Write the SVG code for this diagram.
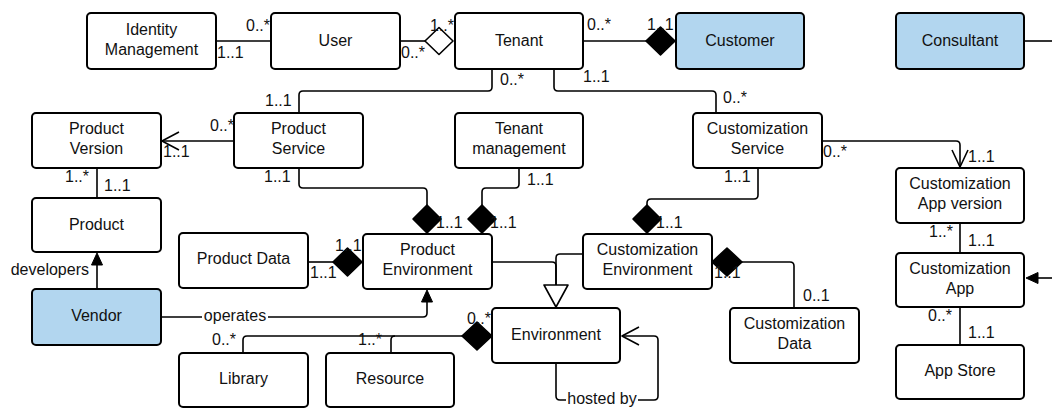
<svg xmlns="http://www.w3.org/2000/svg" width="1052" height="408" viewBox="0 0 1052 408">
<style>
.n rect{fill:#fff;stroke:#000;stroke-width:2}
.n.b rect{fill:#b2d6ef}
text{font-family:"Liberation Sans",Arial,sans-serif;font-size:16px;fill:#111}
.n text{text-anchor:middle}
.c path{fill:none;stroke:#000;stroke-width:1.6;stroke-linejoin:round}
.c path.fd{fill:#000;stroke:#000}
.c path.hd{fill:#fff;stroke:#000}
.c path.fa{fill:#000;stroke:#000;stroke-width:1}
.lbl rect{fill:#fff}
</style>
<rect width="1052" height="408" fill="#fff"/>
<g class="c" id="connectors">
<path d="M216,41 H271"/>
<path d="M400,41 H425"/>
<path class="hd" d="M425,41 L439,27.5 L453,41 L439,54.5 Z"/>
<path d="M583,41 H646"/>
<path class="fd" d="M646,41 L660.5,27 L675,41 L660.5,55 Z"/>
<path d="M1024,41 H1052"/>
<path d="M492,69 V87 Q492,91 488,91 H303 Q299,91 299,95 V113"/>
<path d="M554,69 V87 Q554,91 558,91 H712 Q716,91 716,95 V113"/>
<path d="M234,141 H162"/>
<path d="M179,132 L162,141 L179,150"/>
<path d="M97,168 V198"/>
<path d="M299,168 V184 Q299,188 303,188 H423 Q427,188 427,192 V205"/>
<path class="fd" d="M427,205 L441,219 L427,233 L413,219 Z"/>
<path d="M519,168 V184 Q519,188 515,188 H486 Q482,188 482,192 V205"/>
<path class="fd" d="M482,205 L496,219 L482,233 L468,219 Z"/>
<path d="M758,168 V195 Q758,199 754,199 H651 Q647,199 647,203 V205"/>
<path class="fd" d="M647,205 L661,219 L647,233 L633,219 Z"/>
<path d="M822,141 H956 Q960,141 960,145 V167"/>
<path d="M952,150 L960,167 L968,150"/>
<path d="M960,223 V253"/>
<path d="M960,307 V345"/>
<path d="M1052,278 H1036"/>
<path class="fa" d="M1026,278 L1038,272.5 L1038,283.5 Z"/>
<path d="M308,262 H333"/>
<path class="fd" d="M333,262 L347.5,248 L362,262 L347.5,276 Z"/>
<path d="M97,289 V262"/>
<path class="fa" d="M97,253 L102.5,265 L91.5,265 Z"/>
<path d="M161,317 H423 Q427,317 427,313 V300"/>
<path class="fa" d="M427,290 L432.5,302 L421.5,302 Z"/>
<path d="M492,262 H552 Q556,262 556,266 V285"/>
<path d="M583,254 H560 Q556,254 556,258 V285"/>
<path class="hd" d="M544,285 L568,285 L556,307 Z"/>
<path d="M243,353 V340 Q243,336 247,336 H462"/>
<path d="M391,353 V340 Q391,336 395,336"/>
<path class="fd" d="M462,336 L477,322 L492,336 L477,350 Z"/>
<path class="fd" d="M712,262 L727,248 L742,262 L727,276 Z"/>
<path d="M742,262 H790 Q794,262 794,266 V308"/>
<path d="M556,363 V396 Q556,400 560,400 H654 Q658,400 658,396 V340 Q658,336 654,336 H622"/>
<path d="M639,327 L622,336 L639,345"/>
<g class="lbl">
<rect x="202" y="307" width="66" height="18"/>
<text x="235" y="321" text-anchor="middle">operates</text>
<rect x="566" y="392" width="72" height="16"/>
<text x="602" y="404" text-anchor="middle">hosted by</text>
<text x="89" y="275" text-anchor="end">developers</text>
</g>
<g class="mult">
<text x="246" y="31">0..*</text>
<text x="217" y="58">1..1</text>
<text x="430" y="31">1..*</text>
<text x="401" y="58">0..*</text>
<text x="587" y="30">0..*</text>
<text x="647" y="30">1..1</text>
<text x="500" y="85">0..*</text>
<text x="265" y="106">1..1</text>
<text x="583" y="82">1..1</text>
<text x="723" y="103">0..*</text>
<text x="210" y="131">0..*</text>
<text x="163" y="157">1..1</text>
<text x="65" y="182">1..*</text>
<text x="104" y="191">1..1</text>
<text x="264" y="182">1..1</text>
<text x="436" y="228">1..1</text>
<text x="527" y="185">1..1</text>
<text x="490" y="228">1..1</text>
<text x="724" y="182">1..1</text>
<text x="656" y="228">1..1</text>
<text x="823" y="157">0..*</text>
<text x="968" y="162">1..1</text>
<text x="929" y="237">1..*</text>
<text x="968" y="246">1..1</text>
<text x="928" y="321">0..*</text>
<text x="968" y="338">1..1</text>
<text x="335" y="251">1..1</text>
<text x="310" y="278">1..1</text>
<text x="714" y="278">1..1</text>
<text x="803" y="301">0..1</text>
<text x="212" y="345">0..*</text>
<text x="358" y="345">1..*</text>
<text x="467" y="324">0..*</text>
</g>
</g>
<g class="n" id="identity-management"><rect x="87" y="13" width="129" height="56" rx="4"/><text x="151.5" y="35">Identity</text><text x="151.5" y="55">Management</text></g>
<g class="n" id="user"><rect x="271" y="13" width="129" height="56" rx="4"/><text x="335.5" y="46">User</text></g>
<g class="n" id="tenant"><rect x="455" y="13" width="128" height="56" rx="4"/><text x="519" y="46">Tenant</text></g>
<g class="n b" id="customer"><rect x="676" y="13" width="128" height="56" rx="4"/><text x="740" y="46">Customer</text></g>
<g class="n b" id="consultant"><rect x="896" y="13" width="128" height="56" rx="4"/><text x="960" y="46">Consultant</text></g>
<g class="n" id="product-version"><rect x="32" y="113" width="129" height="55" rx="4"/><text x="96.5" y="134">Product</text><text x="96.5" y="154">Version</text></g>
<g class="n" id="product-service"><rect x="234" y="113" width="129" height="55" rx="4"/><text x="298.5" y="134">Product</text><text x="298.5" y="154">Service</text></g>
<g class="n" id="tenant-management"><rect x="455" y="113" width="128" height="55" rx="4"/><text x="519" y="134">Tenant</text><text x="519" y="154">management</text></g>
<g class="n" id="customization-service"><rect x="693" y="113" width="129" height="55" rx="4"/><text x="757.5" y="134">Customization</text><text x="757.5" y="154">Service</text></g>
<g class="n" id="customization-app-version"><rect x="896" y="168" width="128" height="55" rx="4"/><text x="960" y="189">Customization</text><text x="960" y="209">App version</text></g>
<g class="n" id="product"><rect x="32" y="198" width="129" height="54" rx="4"/><text x="96.5" y="230">Product</text></g>
<g class="n" id="product-data"><rect x="179" y="233" width="129" height="55" rx="4"/><text x="243.5" y="264">Product Data</text></g>
<g class="n" id="product-environment"><rect x="363" y="234" width="129" height="55" rx="4"/><text x="427.5" y="255">Product</text><text x="427.5" y="275">Environment</text></g>
<g class="n" id="customization-environment"><rect x="583" y="234" width="129" height="55" rx="4"/><text x="647.5" y="255">Customization</text><text x="647.5" y="275">Environment</text></g>
<g class="n" id="customization-app"><rect x="896" y="253" width="128" height="54" rx="4"/><text x="960" y="274">Customization</text><text x="960" y="294">App</text></g>
<g class="n b" id="vendor"><rect x="32" y="289" width="129" height="56" rx="4"/><text x="96.5" y="321">Vendor</text></g>
<g class="n" id="environment"><rect x="492" y="308" width="128" height="55" rx="4"/><text x="556" y="340">Environment</text></g>
<g class="n" id="customization-data"><rect x="730" y="308" width="129" height="55" rx="4"/><text x="794.5" y="329">Customization</text><text x="794.5" y="349">Data</text></g>
<g class="n" id="library"><rect x="179" y="353" width="129" height="54" rx="4"/><text x="243.5" y="384">Library</text></g>
<g class="n" id="resource"><rect x="326" y="353" width="128" height="54" rx="4"/><text x="390" y="384">Resource</text></g>
<g class="n" id="app-store"><rect x="896" y="345" width="128" height="54" rx="4"/><text x="960" y="376">App Store</text></g>
</svg>
